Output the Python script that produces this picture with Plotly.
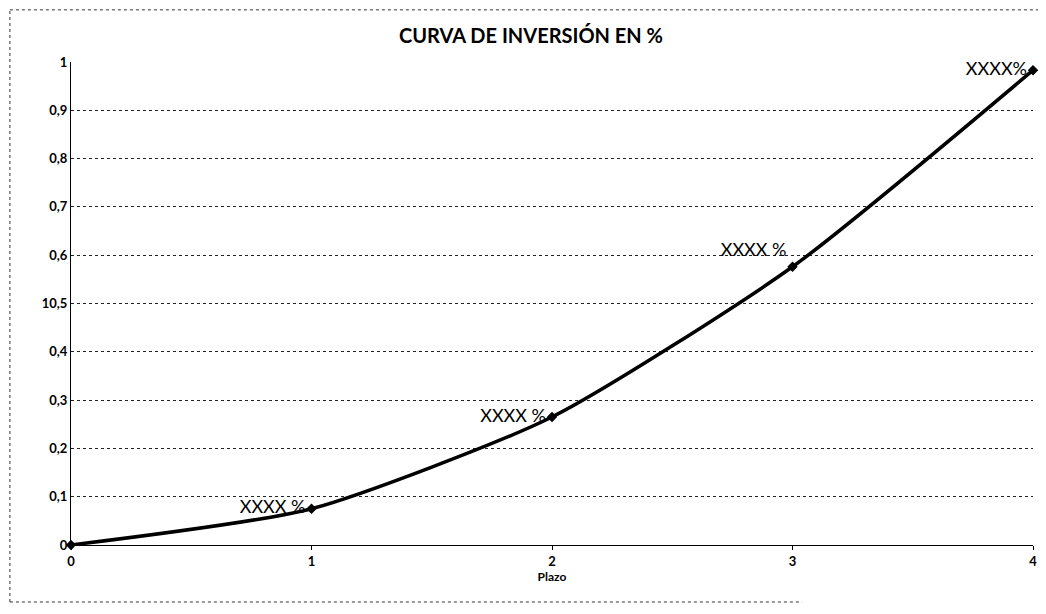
import plotly.graph_objects as go

plazo = [0, 1, 2, 3, 4]
inversion = [0.0, 0.075, 0.265, 0.576, 0.983]
etiquetas = ["", "XXXX %", "XXXX %", "XXXX %", "XXXX%"]
posiciones = ["middle left", "middle left", "middle left", "top left", "middle left"]
y_ticks = [0, 0.1, 0.2, 0.3, 0.4, 0.5, 0.6, 0.7, 0.8, 0.9, 1]
y_tick_text = ["0", "0,1", "0,2", "0,3", "0,4", "10,5", "0,6", "0,7", "0,8", "0,9", "1"]

fig = go.Figure()
fig.add_trace(go.Scatter(
    x=plazo, y=inversion, mode="lines+markers+text",
    line=dict(color="black", width=3.5, shape="spline", smoothing=0.6),
    marker=dict(symbol="diamond", size=8, color="black"),
    text=etiquetas, textposition=posiciones,
    textfont=dict(family="Lato", size=18, color="black"),
    cliponaxis=False, showlegend=False,
))

fig.update_layout(
    width=1046, height=614,
    paper_bgcolor="white", plot_bgcolor="white",
    margin=dict(l=63, r=21, t=54, b=77),
    title=dict(text="<b>CURVA DE INVERSIÓN EN %</b>", x=0.50, xanchor="center",
               y=0.955, yanchor="middle",
               font=dict(family="Lato", size=20, color="black")),
    xaxis=dict(range=[0, 4], tickvals=plazo, ticktext=[str(p) for p in plazo],
               showgrid=False, showline=True, linecolor="black", linewidth=1,
               ticks="outside", ticklen=4, tickcolor="black",
               tickfont=dict(family="Lato", size=13, color="black", weight="bold"),
               title=dict(text="<b>Plazo</b>", font=dict(family="Lato", size=12, color="black"), standoff=4),
               zeroline=False),
    yaxis=dict(range=[0, 1], tickvals=y_ticks, ticktext=y_tick_text,
               showgrid=True, gridcolor="#222", griddash="dot", gridwidth=1,
               showline=True, linecolor="black", linewidth=1,
               tickfont=dict(family="Lato", size=13, color="black", weight="bold"),
               ticks="", zeroline=False),
    shapes=[
        dict(type="line", xref="paper", yref="paper", x0=-0.0635, x1=-0.0635, y0=-0.118, y1=1.108,
             line=dict(color="#333", width=1, dash="dot")),
        dict(type="line", xref="paper", yref="paper", x0=-0.0635, x1=1.013, y0=1.108, y1=1.108,
             line=dict(color="#333", width=1, dash="dot")),
        dict(type="line", xref="paper", yref="paper", x0=-0.0635, x1=0.76, y0=-0.118, y1=-0.118,
             line=dict(color="#333", width=1, dash="dot")),
    ],
)

fig.write_html("out.html")
